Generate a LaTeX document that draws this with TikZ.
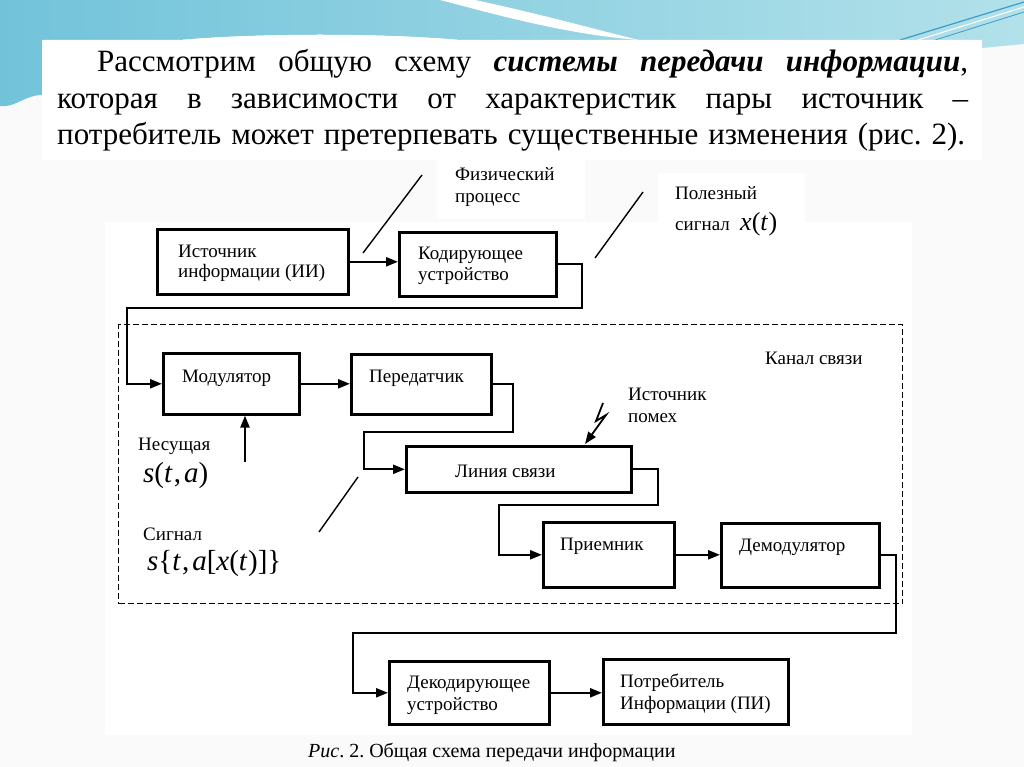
\documentclass[tikz,border=0pt]{standalone}
\usepackage{fontspec}
\setmainfont{Liberation Serif}
\usetikzlibrary{arrows.meta}
\frenchspacing
\definecolor{bandL}{HTML}{72C3DA}
\definecolor{bandR}{HTML}{B2E1EA}
\definecolor{streak}{HTML}{3C9CC6}
\newcommand\dgf{\fontsize{19}{21}\selectfont}
\newcommand\ttlf{\fontsize{31}{36}\selectfont}
\newcommand\capf{\fontsize{20}{22}\selectfont}
\newcommand\mathbig{\fontsize{29}{32}\selectfont}
\newcommand\mathmid{\fontsize{26}{30}\selectfont}
\begin{document}
\begin{tikzpicture}[x=1pt,y=-1pt,
  box/.style={draw, line width=2.6pt, inner sep=0pt, fill=white, anchor=north west},
  conn/.style={line width=2.2pt},
  arr/.style={line width=2.2pt, -{Triangle[length=12pt,width=9pt]}},
  slash/.style={line width=1.4pt},
  lbl/.style={font=\dgf, anchor=base west, inner sep=0pt},
  mth/.style={font=\mathbig, anchor=base west, inner sep=0pt},
  ttl/.style={font=\ttlf, anchor=base west, inner sep=0pt}]
\useasboundingbox (0,0) rectangle (1024,767);
% background
\fill[gray!4] (0,0) rectangle (1024,767);
\shade[left color=bandL, right color=bandR] (0,0) -- (1024,0) -- (1024,44) -- (982,48) -- (982,40) -- (460,40) .. controls (380,33) and (260,33) .. (180,40) -- (42,40) -- (42,95) .. controls (25,95) and (15,108) .. (0,106) -- cycle;
\fill[white] (440,0) .. controls (480,10) and (560,34) .. (639,40) .. controls (590,28) and (540,14) .. (475,0) -- cycle;
\draw[streak, line width=1.2pt] (900,40) -- (1024,2);
\draw[streak, line width=0.8pt] (935,40) -- (1024,12);
\draw[white, line width=1pt] (918,40) -- (1024,7);
\fill[white] (42,40) -- (180,40) .. controls (260,33) and (380,33) .. (460,40) -- (982,40) -- (982,160) -- (42,160) -- cycle;
\fill[white] (105,222) rectangle (912,735);
\fill[white] (437,158) rectangle (585,219);
\fill[white] (658,173) rectangle (805,248);
% title
\node[ttl] (t1) at (97,72) {\makebox[871pt][s]{Рассмотрим общую схему \textbf{\textit{системы передачи информации}},}};
\node[ttl] (t2) at (57,109) {\makebox[911pt][s]{которая в зависимости от характеристик пары источник –}};
\node[ttl] (t3) at (57,145) {\makebox[908pt][s]{потребитель может претерпевать существенные изменения (рис. 2).}};
% dashed channel frame
\node[draw, dash pattern=on 6pt off 3pt, line width=1.3pt, inner sep=0pt, minimum width=784pt, minimum height=279pt, anchor=north west] (chan) at (118,324) {};
% boxes
\node[box, minimum width=191pt, minimum height=65pt] (ii) at (156,228) {};
\node[box, minimum width=157pt, minimum height=64pt] (kod) at (398,231) {};
\node[box, minimum width=136pt, minimum height=61pt] (mod) at (162,352) {};
\node[box, minimum width=140pt, minimum height=60pt] (per) at (350,353) {};
\node[box, minimum width=225pt, minimum height=46pt] (lin) at (405,445) {};
\node[box, minimum width=131pt, minimum height=65pt] (pri) at (542,521) {};
\node[box, minimum width=158pt, minimum height=64pt] (dem) at (720,522) {};
\node[box, minimum width=160pt, minimum height=63pt] (dek) at (388,660) {};
\node[box, minimum width=185pt, minimum height=65pt] (pot) at (602,658) {};
% box texts
\node[lbl] (ii1) at (178,257) {Источник};
\node[lbl] (ii2) at (178,277) {информации (ИИ)};
\node[lbl] (kod1) at (418,259) {Кодирующее};
\node[lbl] (kod2) at (418,280) {устройство};
\node[lbl] (modt) at (182,382) {Модулятор};
\node[lbl] (pert) at (369,382) {Передатчик};
\node[lbl] (lint) at (455,477) {Линия связи};
\node[lbl] (prit) at (560,550) {Приемник};
\node[lbl] (demt) at (739,551) {Демодулятор};
\node[lbl] (dek1) at (407,688) {Декодирующее};
\node[lbl] (dek2) at (407,710) {устройство};
\node[lbl] (pot1) at (620,687) {Потребитель};
\node[lbl] (pot2) at (620,709) {Информации (ПИ)};
% free labels
\node[lbl] (fiz1) at (455,181) {Физический};
\node[lbl] (fiz2) at (455,203) {процесс};
\node[lbl] (pol1) at (675,200) {Полезный};
\node[lbl] (pol2) at (675,230) {сигнал};
\node[font=\mathmid, anchor=base west, inner sep=0pt] (xt) at (740,230) {\textit{x}(\textit{t}\kern0.5pt)};
\node[lbl] (kan) at (765,364) {Канал связи};
\node[lbl] (ip1) at (628,400) {Источник};
\node[lbl] (ip2) at (628,422) {помех};
\node[lbl] (nes) at (138,450) {Несущая};
\node[mth] (sta) at (143,482) {\textit{s}(\textit{t}\kern1pt,\kern3pt\textit{a})};
\node[lbl] (sig) at (143,540) {Сигнал};
\node[mth] (stax) at (147,570) {\textit{s}\{\textit{t}\kern1pt,\kern3pt\textit{a}[\textit{x}(\textit{t}\kern0.5pt)]\}};
\node[font=\capf, anchor=base west, inner sep=0pt] (cap) at (308,757) {\textit{Рис}. 2. Общая схема передачи информации};
% coordinates
\coordinate (c1) at (582,308);
\coordinate (c2) at (127,308);
\coordinate (c3) at (513,432);
\coordinate (c4) at (364,432);
\coordinate (c5) at (658,505);
\coordinate (c6) at (499,505);
\coordinate (c7) at (896,633);
\coordinate (c8) at (353,633);
\coordinate (carr) at (245,462);
\coordinate (z1) at (603,403);
\coordinate (z2) at (596,421);
\coordinate (z3) at (606,415);
\coordinate (ztip) at (585,444);
\coordinate (s1a) at (363,253);
\coordinate (s1b) at (422,175);
\coordinate (s2a) at (595,258);
\coordinate (s2b) at (643,192);
\coordinate (s3a) at (319,532);
\coordinate (s3b) at (358,477);
% connectors
\draw[arr] (ii.east) -- (ii.east -| kod.west);
\draw[arr] (kod.east) -| (c1) -- (c2) |- (mod.west);
\draw[arr] (mod.east) -- (mod.east -| per.west);
\draw[arr] (per.east) -| (c3) -- (c4) |- (lin.west);
\draw[arr] (lin.east) -| (c5) -- (c6) |- (pri.west);
\draw[arr] (pri.east) -- (pri.east -| dem.west);
\draw[arr] (dem.east) -| (c7) -- (c8) |- (dek.west);
\draw[arr] (dek.east) -- (dek.east -| pot.west);
\draw[arr] (carr) -- (carr |- mod.south);
\draw[line width=1.8pt, -{Triangle[length=12pt,width=9pt]}] (z1) -- (z2) -- (z3) -- (ztip);
\draw[slash] (s1a) -- (s1b);
\draw[slash] (s2a) -- (s2b);
\draw[slash] (s3a) -- (s3b);
\end{tikzpicture}
\end{document}
